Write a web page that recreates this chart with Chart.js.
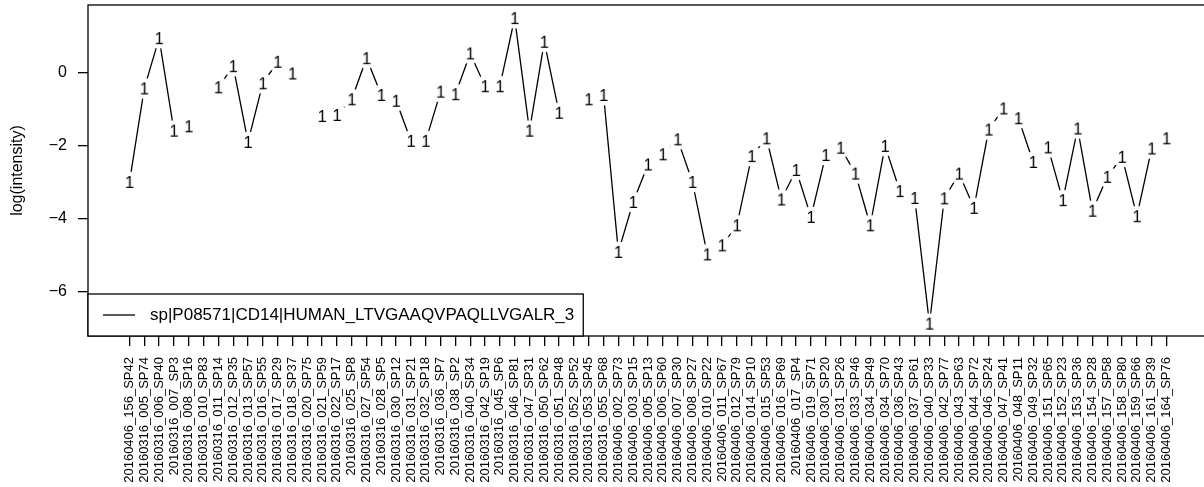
<!DOCTYPE html>
<html>
<head>
<meta charset="utf-8">
<script src="https://cdn.jsdelivr.net/npm/chart.js@4.4.1/dist/chart.umd.min.js"></script>
<style>
  html, body { margin: 0; padding: 0; background: #fff; overflow: hidden; }
  #chart { display: block; }
</style>
</head>
<body>
<canvas id="chart" width="1212" height="487"></canvas>
<script>
    // runs on the x axis, in plot order
    const sampleLabels = [
        '20160406_156_SP42', '20160316_005_SP74', '20160316_006_SP40', '20160316_007_SP3',
        '20160316_008_SP16', '20160316_010_SP83', '20160316_011_SP14', '20160316_012_SP35',
        '20160316_013_SP57', '20160316_016_SP55', '20160316_017_SP29', '20160316_018_SP37',
        '20160316_020_SP75', '20160316_021_SP59', '20160316_022_SP17', '20160316_025_SP8',
        '20160316_027_SP54', '20160316_028_SP5', '20160316_030_SP12', '20160316_031_SP21',
        '20160316_032_SP18', '20160316_036_SP7', '20160316_038_SP2', '20160316_040_SP34',
        '20160316_042_SP19', '20160316_045_SP6', '20160316_046_SP81', '20160316_047_SP31',
        '20160316_050_SP62', '20160316_051_SP48', '20160316_052_SP52', '20160316_053_SP45',
        '20160316_055_SP68', '20160406_002_SP73', '20160406_003_SP15', '20160406_005_SP13',
        '20160406_006_SP60', '20160406_007_SP30', '20160406_008_SP27', '20160406_010_SP22',
        '20160406_011_SP67', '20160406_012_SP79', '20160406_014_SP10', '20160406_015_SP53',
        '20160406_016_SP69', '20160406_017_SP4', '20160406_019_SP71', '20160406_030_SP20',
        '20160406_031_SP26', '20160406_033_SP46', '20160406_034_SP49', '20160406_034_SP70',
        '20160406_036_SP43', '20160406_037_SP61', '20160406_040_SP33', '20160406_042_SP77',
        '20160406_043_SP63', '20160406_044_SP72', '20160406_046_SP24', '20160406_047_SP41',
        '20160406_048_SP11', '20160406_049_SP32', '20160406_151_SP65', '20160406_152_SP23',
        '20160406_153_SP36', '20160406_154_SP28', '20160406_157_SP58', '20160406_158_SP80',
        '20160406_159_SP66', '20160406_161_SP39', '20160406_164_SP76'
    ];

    const peptideName = 'sp|P08571|CD14|HUMAN_LTVGAAQVPAQLLVGALR_3';

    // null = not measured in that run (line breaks there)
    const logIntensity = [
        -3.00, -0.43, 0.95, -1.59, -1.47, null, -0.40, 0.18, -1.90, -0.29,
        0.30, -0.02, null, -1.19, -1.16, -0.73, 0.40, -0.61, -0.77, -1.87,
        -1.87, -0.52, -0.59, 0.53, -0.37, -0.37, 1.50, -1.59, 0.85, -1.10,
        null, -0.73, -0.61, -4.92, -3.55, -2.52, -2.24, -1.83, -3.00, -4.99,
        -4.74, -4.19, -2.29, -1.80, -3.48, -2.67, -3.96, -2.26, -2.06, -2.77,
        -4.19, -2.01, -3.25, -3.44, -6.89, -3.45, -2.77, -3.71, -1.56, -0.98,
        -1.25, -2.45, -2.05, -3.50, -1.53, -3.79, -2.86, -2.31, -3.94, -2.08,
        -1.80
    ];

    const yTicks = [-6, -4, -2, 0];

    const FONT = '"Liberation Sans", Arial, Helvetica, sans-serif';
    Chart.defaults.font.family = FONT;
    Chart.defaults.color = '#000';

    // marker = the digit "1" on a small white disc, so the line stops short of it (R type = "b")
    function makeMarker() {
        const c = document.createElement('canvas');
        c.width = 24;
        c.height = 24;
        const g = c.getContext('2d');
        g.fillStyle = '#fff';
        g.beginPath();
        g.arc(12, 12, 10.5, 0, Math.PI * 2);
        g.fill();
        g.fillStyle = '#000';
        g.font = '16.5px ' + FONT;
        g.textAlign = 'center';
        g.textBaseline = 'alphabetic';
        g.fillText('1', 12, 17.9);
        return c;
    }

    const plotBox = {
        id: 'plotBox',
        afterDraw(chart) {
            const { ctx, chartArea } = chart;
            ctx.save();
            ctx.strokeStyle = '#000';
            ctx.lineWidth = 1.3;
            ctx.strokeRect(chartArea.left, chartArea.top, chartArea.right - chartArea.left, chartArea.bottom - chartArea.top);
            ctx.restore();
        }
    };

    // R-style legend in the bottom-left corner of the plot
    const bottomLegend = {
        id: 'bottomLegend',
        afterDraw(chart) {
            const { ctx, chartArea } = chart;
            const label = chart.data.datasets[0].label;
            ctx.save();
            ctx.font = '17px ' + FONT;
            const tw = ctx.measureText(label).width;
            const x0 = chartArea.left;
            const h = 42;
            const y0 = chartArea.bottom - h;
            const w = 62 + tw + 9;
            ctx.fillStyle = '#fff';
            ctx.fillRect(x0, y0, w, h);
            ctx.strokeStyle = '#000';
            ctx.lineWidth = 1.3;
            ctx.strokeRect(x0, y0, w, h);
            ctx.beginPath();
            ctx.moveTo(x0 + 15, y0 + h / 2);
            ctx.lineTo(x0 + 47, y0 + h / 2);
            ctx.stroke();
            ctx.fillStyle = '#000';
            ctx.textBaseline = 'middle';
            ctx.fillText(label, x0 + 62, y0 + h / 2);
            ctx.restore();
        }
    };

    const ctx = document.getElementById('chart').getContext('2d');

    new Chart(ctx, {
        type: 'line',
        data: {
            datasets: [{
                label: peptideName,
                data: logIntensity.map((v, i) => ({ x: i + 1, y: v })),
                borderColor: '#000',
                borderWidth: 1.3,
                tension: 0,
                spanGaps: false,
                pointStyle: makeMarker(),
                pointRadius: 10
            }]
        },
        options: {
            responsive: false,
            animation: false,
            events: [],
            layout: {
                autoPadding: false,
                padding: { top: 5, right: 4, left: 0, bottom: 0 }
            },
            plugins: {
                legend: { display: false },
                tooltip: { enabled: false }
            },
            scales: {
                x: {
                    type: 'linear',
                    min: -1.8,
                    max: 73.8,
                    afterBuildTicks: s => { s.ticks = sampleLabels.map((_, i) => ({ value: i + 1 })); },
                    afterFit: s => {
                        s.height = 151;
                        s.paddingLeft = 0;
                        s.paddingRight = 0;
                    },
                    border: { display: false },
                    grid: { drawOnChartArea: false, tickLength: 10, color: '#000', lineWidth: 1.3 },
                    ticks: {
                        autoSkip: false,
                        minRotation: 90,
                        maxRotation: 90,
                        padding: 11,
                        font: { size: 13 },
                        callback: v => sampleLabels[v - 1]
                    }
                },
                y: {
                    min: -7.23,
                    max: 1.86,
                    afterBuildTicks: s => { s.ticks = yTicks.map(v => ({ value: v })); },
                    afterFit: s => {
                        s.width = 88;
                        s.paddingTop = 0;
                        s.paddingBottom = 0;
                    },
                    border: { display: false },
                    grid: { drawOnChartArea: false, tickLength: 10, color: '#000', lineWidth: 1.3 },
                    ticks: {
                        padding: 11,
                        font: { size: 16 },
                        callback: v => String(v).replace('-', '\u2212')
                    },
                    title: {
                        display: true,
                        text: 'log(intensity)',
                        font: { size: 16 },
                        padding: { top: 8 }
                    }
                }
            }
        },
        plugins: [plotBox, bottomLegend]
    });
</script>
</body>
</html>
